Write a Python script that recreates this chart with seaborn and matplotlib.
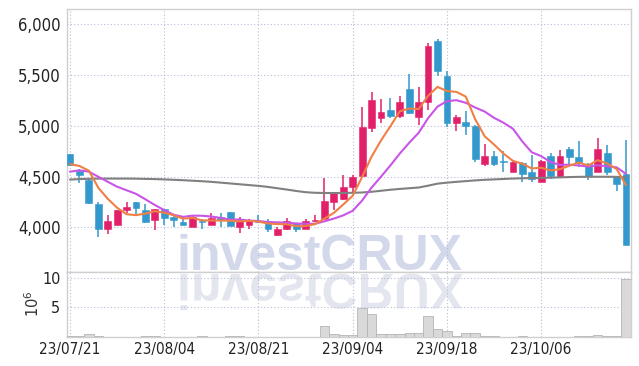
import matplotlib
matplotlib.use("Agg")
import matplotlib.pyplot as plt
import numpy as np
import seaborn as sns
from matplotlib import font_manager
from matplotlib.font_manager import FontProperties
from matplotlib.patches import PathPatch
from matplotlib.textpath import TextPath
from matplotlib.transforms import Affine2D

# ---------------------------------------------------------------------------
# Data (daily candles, 23/07/21 .. 23/10/20)
# ---------------------------------------------------------------------------
dates = [
    "23/07/21", "23/07/24", "23/07/25", "23/07/26", "23/07/27", "23/07/28", "23/07/31",
    "23/08/01", "23/08/02", "23/08/03", "23/08/04", "23/08/07", "23/08/08", "23/08/09",
    "23/08/10", "23/08/11", "23/08/14", "23/08/16", "23/08/17", "23/08/18", "23/08/21",
    "23/08/22", "23/08/23", "23/08/24", "23/08/25", "23/08/28", "23/08/29", "23/08/30",
    "23/08/31", "23/09/01", "23/09/04", "23/09/05", "23/09/06", "23/09/07", "23/09/08",
    "23/09/11", "23/09/12", "23/09/13", "23/09/14", "23/09/15", "23/09/18", "23/09/19",
    "23/09/20", "23/09/21", "23/09/22", "23/09/25", "23/09/26", "23/09/27", "23/10/04",
    "23/10/05", "23/10/06", "23/10/10", "23/10/11", "23/10/12", "23/10/13", "23/10/16",
    "23/10/17", "23/10/18", "23/10/19", "23/10/20",
]

open_ = [
    4720, 4555, 4470, 4230, 3985, 4025, 4175, 4250, 4170, 4072,
    4180, 4100, 4052, 4006, 4060, 4026, 4100, 4150, 4006, 4020,
    4065, 4060, 3927, 3980, 4040, 3986, 4060, 4085, 4250, 4280,
    4400, 4510, 4980, 5080, 5155, 5100, 5360, 5090, 5230, 5835,
    5490, 5025, 5037, 5000, 4620, 4702, 4645, 4548, 4630, 4545,
    4450, 4705, 4498, 4770, 4695, 4623, 4548, 4732, 4498, 4525,
]
high = [
    4725, 4570, 4480, 4250, 4120, 4175, 4250, 4250, 4230, 4185,
    4185, 4120, 4100, 4110, 4085, 4140, 4140, 4155, 4098, 4080,
    4125, 4080, 4006, 4092, 4045, 4080, 4118, 4486, 4345, 4512,
    4515, 5180, 5335, 5260, 5270, 5295, 5505, 5380, 5820, 5850,
    5540, 5103, 5143, 5005, 4818, 4755, 4755, 4663, 4646, 4709,
    4665, 4735, 4764, 4795, 4847, 4630, 4883, 4814, 4500, 4857,
]
low = [
    4600, 4440, 4230, 3900, 3930, 4020, 4145, 4120, 4045, 3973,
    4020, 4005, 4020, 4000, 3980, 4020, 4000, 4010, 3947, 3986,
    4045, 3955, 3914, 3975, 3955, 3980, 4055, 4080, 4170, 4270,
    4340, 4500, 4935, 5030, 5075, 5075, 5120, 5010, 5160, 5487,
    4990, 4950, 4910, 4640, 4604, 4604, 4545, 4540, 4443, 4446,
    4445, 4476, 4490, 4623, 4597, 4466, 4540, 4512, 4360, 3825,
]
close = [
    4610, 4520, 4235, 3980, 4060, 4170, 4200, 4190, 4055, 4180,
    4095, 4072, 4025, 4098, 4050, 4090, 4070, 4015, 4072, 4072,
    4052, 3980, 3986, 4059, 3980, 4066, 4066, 4256, 4340, 4395,
    4500, 4990, 5255, 5135, 5100, 5235, 5122, 5235, 5785, 5537,
    5030, 5083, 4998, 4670, 4702, 4621, 4640, 4643, 4522, 4476,
    4653, 4508, 4705, 4695, 4630, 4505, 4771, 4545, 4426, 3830,
]

# volume, millions of shares
volume = [
    0.15, 0.2, 0.45, 0.12, 0.05, 0.05, 0.05, 0.06, 0.15, 0.15,
    0.05, 0.04, 0.04, 0.05, 0.15, 0.05, 0.04, 0.15, 0.15, 0.05,
    0.04, 0.04, 0.05, 0.04, 0.05, 0.05, 0.06, 1.85, 0.45, 0.4,
    0.3, 4.85, 3.85, 0.57, 0.45, 0.45, 0.62, 0.62, 3.5, 1.3,
    1.08, 0.25, 0.62, 0.62, 0.25, 0.1, 0.05, 0.03, 0.1, 0.08,
    0.08, 0.08, 0.08, 0.08, 0.1, 0.1, 0.28, 0.23, 0.23, 9.9,
]

# moving averages as drawn on the chart
ma5 = [
    4623, 4604, 4558, 4390, 4281, 4193, 4129, 4120, 4135, 4159,
    4144, 4118, 4085, 4094, 4068, 4067, 4067, 4065, 4059, 4064,
    4056, 4038, 4032, 4030, 4011, 4014, 4031, 4085, 4142, 4225,
    4311, 4496, 4696, 4855, 4996, 5143, 5169, 5165, 5295, 5383,
    5342, 5334, 5287, 5064, 4897, 4815, 4726, 4655, 4626, 4580,
    4587, 4560, 4573, 4607, 4638, 4609, 4661, 4629, 4575, 4415,
]
ma10 = [
    4548, 4561, 4548, 4498, 4449, 4400, 4365, 4330, 4276, 4220,
    4169, 4124, 4103, 4115, 4114, 4106, 4093, 4075, 4077, 4066,
    4062, 4052, 4049, 4045, 4038, 4035, 4035, 4059, 4086, 4118,
    4163, 4264, 4391, 4498, 4610, 4727, 4833, 4931, 5075, 5189,
    5242, 5252, 5226, 5180, 5140, 5078, 5030, 4971, 4845, 4739,
    4701, 4643, 4614, 4617, 4609, 4598, 4611, 4601, 4591, 4527,
]
ma60 = [
    4470, 4475, 4478, 4480, 4480, 4480, 4480, 4479, 4477, 4475,
    4472, 4468, 4464, 4459, 4454, 4448, 4440, 4432, 4424, 4416,
    4408, 4398, 4385, 4372, 4358, 4346, 4340, 4338, 4338, 4338,
    4340, 4343, 4350, 4360, 4370, 4378, 4385, 4392, 4410, 4430,
    4440, 4448, 4455, 4462, 4468, 4472, 4476, 4480, 4483, 4485,
    4487, 4489, 4492, 4495, 4497, 4498, 4498, 4498, 4497, 4492,
]

RED = "#e2206a"
BLUE = "#3398cc"

# ---------------------------------------------------------------------------
# Style: pick a condensed face for tick labels if one is installed
# ---------------------------------------------------------------------------
sns.set_theme(style="white")
names = {f.name for f in font_manager.fontManager.ttflist}
condensed = [f for f in font_manager.fontManager.ttflist
             if f.name == "DejaVu Sans" and "ondensed" in f.fname and "Bold" not in f.fname
             and "Oblique" not in f.fname]
if "Liberation Sans Narrow" in names:
    tick_font = {"family": "Liberation Sans Narrow"}
elif condensed:
    tick_font = {"fname": condensed[0].fname}
else:
    tick_font = {"family": "DejaVu Sans"}
plt.rcParams["font.family"] = ["DejaVu Sans"]
tick_prop = FontProperties(**tick_font)

W, H = 639, 366
fig = plt.figure(figsize=(W / 100, H / 100), dpi=100)
left, right = 66.7, 630.7
ax = fig.add_axes([left / W, 1 - 272 / H, (right - left) / W, 263 / H])
ax2 = fig.add_axes([left / W, 1 - 337 / H, (right - left) / W, 65 / H], sharex=ax)

x = np.arange(len(dates))
o = np.array(open_)
c = np.array(close)
up = c >= o
colors = np.where(up, RED, BLUE)

# ---------------------------------------------------------------------------
# Price panel
# ---------------------------------------------------------------------------
ax.vlines(x, low, high, colors=colors, lw=1.1, zorder=3)
ax.bar(x, np.maximum(np.abs(c - o), 14), bottom=np.minimum(o, c), width=0.72,
       color=colors, edgecolor=colors, lw=0.4, zorder=4)

sns.lineplot(x=x, y=ma60, ax=ax, color="#808080", lw=1.5, zorder=5)
sns.lineplot(x=x, y=ma10, ax=ax, color="#c955e8", lw=1.5, zorder=6)
sns.lineplot(x=x, y=ma5, ax=ax, color="#ef8045", lw=1.5, zorder=7)

ax.set_xlim(-0.35, len(dates) - 0.5)
ax.set_ylim(3560, 6150)
ax.set_yticks([4000, 4500, 5000, 5500, 6000])
ax.set_yticklabels([f"{v:,}" for v in [4000, 4500, 5000, 5500, 6000]])

# watermark + reflection
ax.text(177 / W, 96 / H, "investCRUX", transform=fig.transFigure,
        fontsize=36, fontweight="bold", family="Liberation Sans",
        color="#d3d9ea", zorder=0.2)
tp = TextPath((0, 0), "investCRUX", size=36,
              prop=FontProperties(family="Liberation Sans", weight="bold"))
flip = Affine2D().scale(1 / 72, -1 / 72).translate(177 / 100, (H - 274) / 100)
ax2.add_patch(PathPatch(tp, transform=flip + fig.dpi_scale_trans,
                        color="#e4e6ef", lw=0, zorder=0.2, clip_on=False))

# ---------------------------------------------------------------------------
# Volume panel
# ---------------------------------------------------------------------------
ax2.bar(x, volume, width=1.0, color="#d9d9d9", edgecolor="#b5b5b5", lw=0.6, zorder=3)
ax2.set_ylim(0, 11.0)
ax2.set_yticks([5, 10])
ax2.set_yticklabels(["5", "10"])
ax2.set_ylabel(r"$10^6$", fontsize=10.5, color="#333333")
ax2.yaxis.set_label_coords(-0.043, 0.52)

ax2.set_xticks(x[::10])
ax2.set_xticklabels([dates[i] for i in x[::10]])

for a in (ax, ax2):
    a.set_axisbelow(True)
    a.grid(True, linestyle=(0, (1, 2)), color="#b9bdd6", lw=0.8)
    for s in a.spines.values():
        s.set_color("#cfcfcf")
        s.set_linewidth(1.0)
    a.set_xlabel("")
    a.tick_params(length=0)

ax.tick_params(axis="x", labelbottom=False)
ax.tick_params(axis="y", pad=4.5)
ax2.tick_params(axis="y", pad=4.5)
ax2.tick_params(axis="x", pad=3.5)

for lab, size in ([(t, 12) for t in ax.get_yticklabels()]
                  + [(t, 11.5) for t in ax2.get_yticklabels()]
                  + [(t, 11) for t in ax2.get_xticklabels()]):
    lab.set_fontproperties(tick_prop)
    lab.set_fontsize(size)
    lab.set_color("#222222")

fig.savefig("out.png", dpi=100)
